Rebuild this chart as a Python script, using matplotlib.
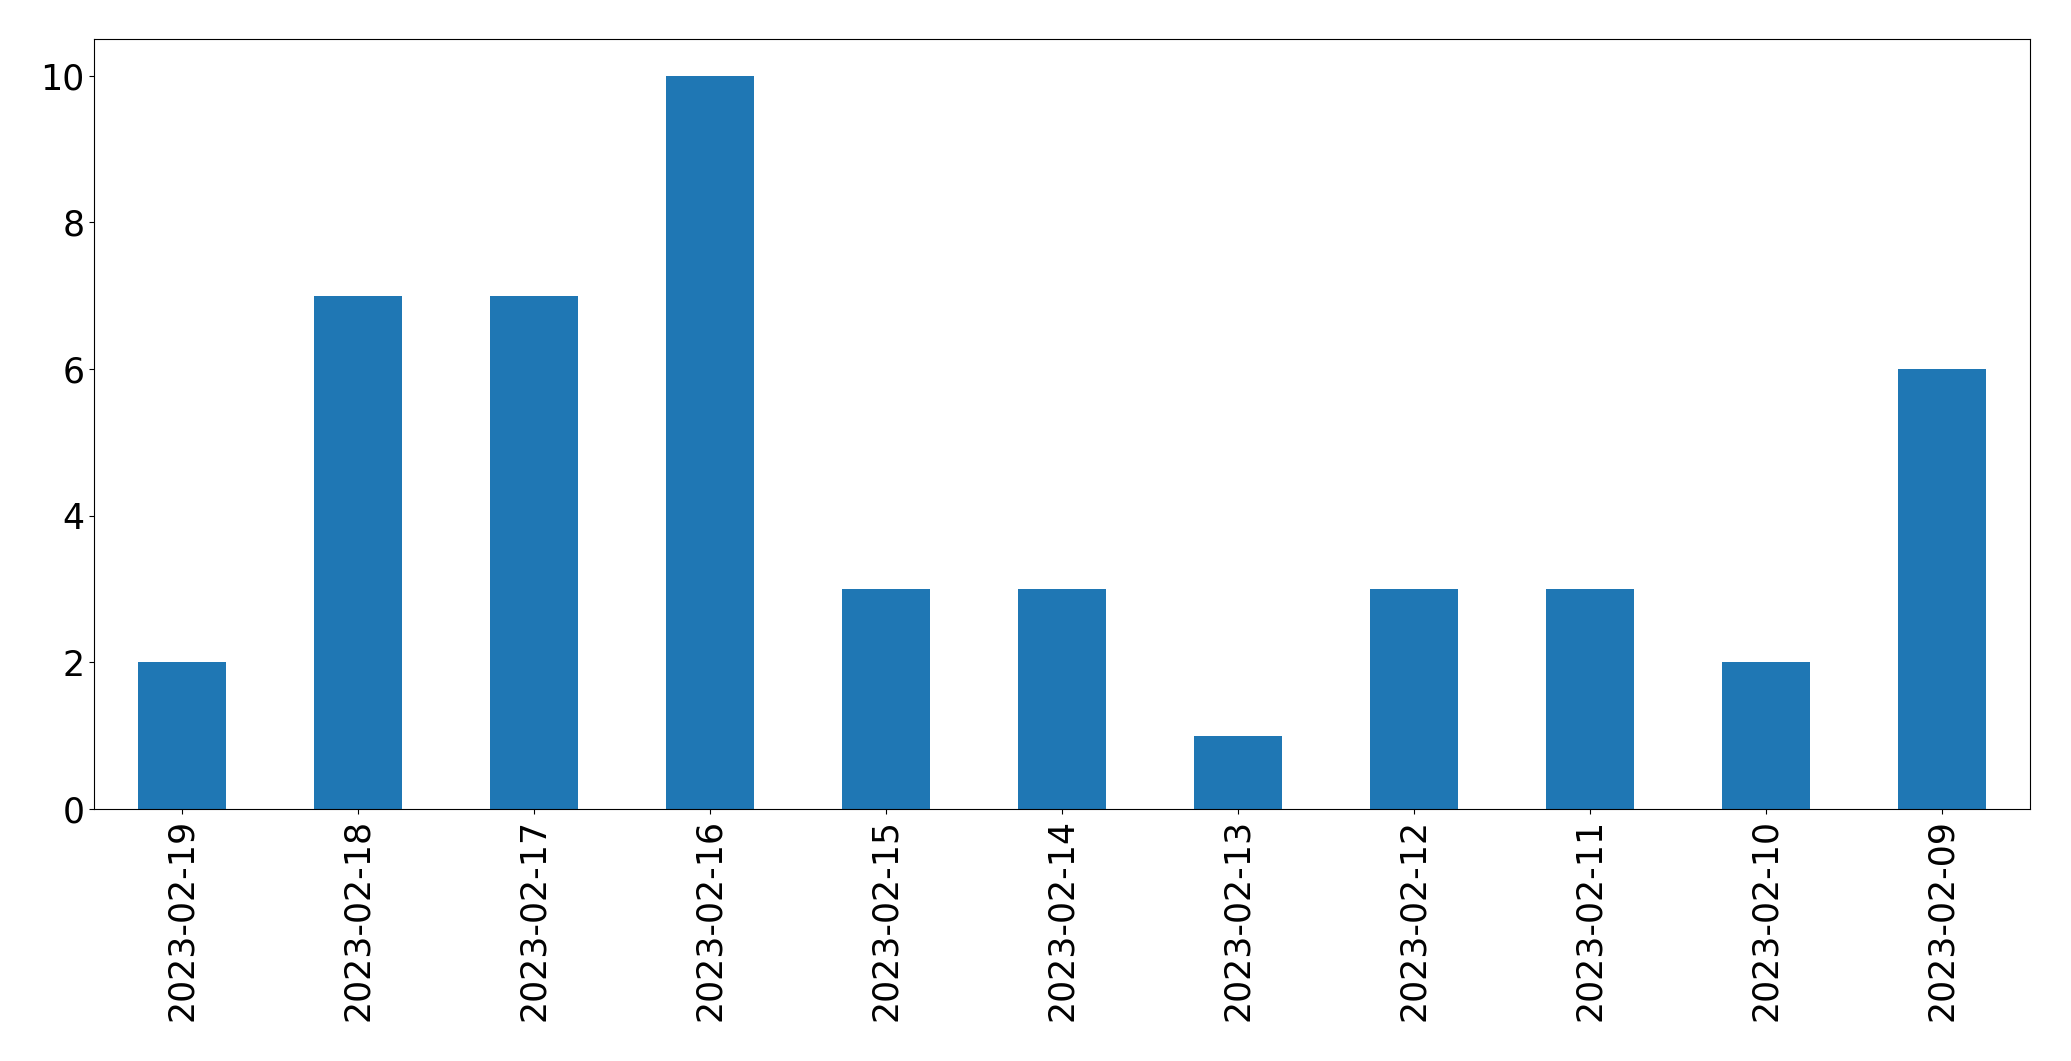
import matplotlib
matplotlib.use("Agg")
import matplotlib.pyplot as plt
import pandas as pd

# Daily counts, newest first (as in the original)
dates = ["2023-02-19", "2023-02-18", "2023-02-17", "2023-02-16", "2023-02-15",
         "2023-02-14", "2023-02-13", "2023-02-12", "2023-02-11", "2023-02-10",
         "2023-02-09"]
counts = [2, 7, 7, 10, 3, 3, 1, 3, 3, 2, 6]

s = pd.Series(counts, index=dates)

fig, ax = plt.subplots(figsize=(20.71, 10.61), dpi=100)
s.plot(kind="bar", ax=ax, color="#1f77b4", width=0.5)

ax.set_xlim(-0.5, len(dates) - 0.5)
ax.set_ylim(0, 10.5)
ax.tick_params(axis="both", labelsize=25)
plt.setp(ax.get_xticklabels(), rotation=90)

fig.subplots_adjust(left=0.0454, right=0.9802, top=0.9632, bottom=0.2375)
fig.savefig("out.png", dpi=100)
